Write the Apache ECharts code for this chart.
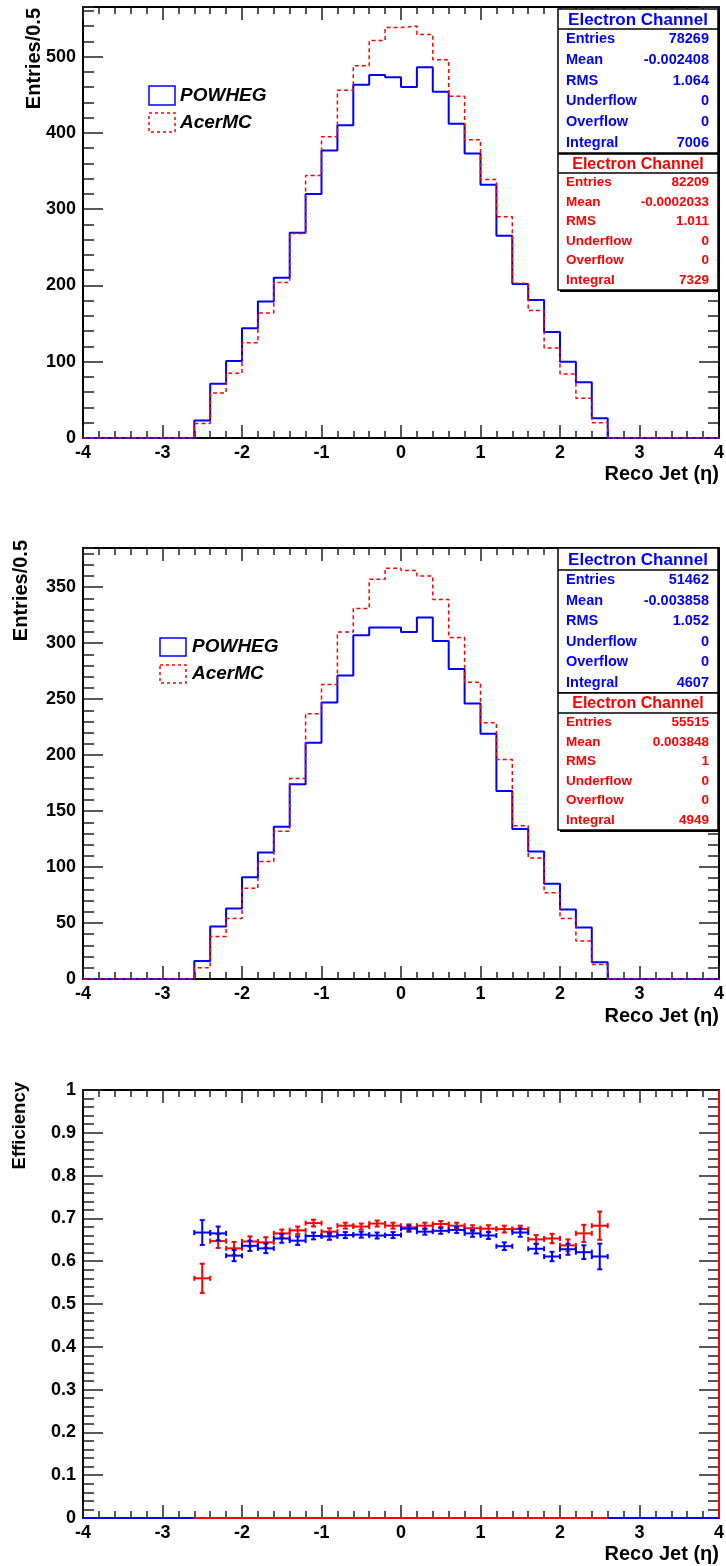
<!DOCTYPE html>
<html>
<head>
<meta charset="utf-8">
<script src="https://cdn.jsdelivr.net/npm/echarts@6/dist/echarts.min.js"></script>
<style>
html, body { margin: 0; padding: 0; background: #fff; }
#main { width: 726px; height: 1566px; }
</style>
</head>
<body>
<div id="main"></div>
<script>
// eta binning: 40 bins of 0.2 on [-4, 4]; only [-2.6, 2.6] is filled
var etaMin = -4, etaMax = 4, binW = 0.2;
var filledMin = -2.6, filledMax = 2.6;

// top panel: all reco jets, entries per bin
var powhegAll = [23, 71, 101, 144, 179, 210, 269, 320, 377, 410, 463, 476, 473,
                 460, 486, 454, 412, 373, 332, 265, 202, 181, 139, 100, 73, 26];
var acerAll = [19, 59, 85, 125, 164, 204, 268, 344, 395, 456, 488, 521, 538,
               540, 529, 496, 448, 391, 339, 290, 203, 167, 118, 84, 52, 20];

// middle panel: matched reco jets
var powhegSel = [16, 47, 63, 91, 113, 136, 174, 211, 247, 271, 307, 314, 314,
                 310, 323, 302, 277, 246, 219, 168, 134, 114, 85, 62, 46, 15];
var acerSel = [10, 38, 54, 81, 105, 132, 179, 237, 263, 310, 331, 357, 367,
               365, 360, 339, 305, 265, 229, 196, 137, 108, 77, 54, 34, 13];

// bottom panel: efficiency per bin and its error
var powhegEff = [0.667, 0.665, 0.613, 0.636, 0.630, 0.653, 0.648, 0.659, 0.658, 0.661, 0.662, 0.660, 0.661,
                 0.676, 0.669, 0.671, 0.673, 0.665, 0.660, 0.635, 0.667, 0.629, 0.611, 0.628, 0.621, 0.611];
var powhegEffErr = [0.029, 0.016, 0.013, 0.012, 0.011, 0.010, 0.010, 0.008, 0.008, 0.007, 0.007, 0.007, 0.007,
                    0.007, 0.007, 0.007, 0.007, 0.008, 0.008, 0.009, 0.010, 0.011, 0.011, 0.013, 0.016, 0.030];
var acerEff = [0.560, 0.647, 0.630, 0.646, 0.644, 0.665, 0.672, 0.689, 0.669, 0.683, 0.681, 0.688, 0.683,
               0.679, 0.683, 0.687, 0.683, 0.677, 0.676, 0.675, 0.675, 0.651, 0.653, 0.637, 0.665, 0.683];
var acerEffErr = [0.034, 0.016, 0.015, 0.012, 0.012, 0.009, 0.009, 0.008, 0.008, 0.007, 0.007, 0.007, 0.007,
                  0.007, 0.007, 0.007, 0.007, 0.007, 0.008, 0.008, 0.008, 0.010, 0.011, 0.014, 0.020, 0.033];

// stat boxes
var statNames = ["Entries", "Mean", "RMS", "Underflow", "Overflow", "Integral"];
var statsPowhegAll = ["78269", "-0.002408", "1.064", "0", "0", "7006"];
var statsAcerAll = ["82209", "-0.0002033", "1.011", "0", "0", "7329"];
var statsPowhegSel = ["51462", "-0.003858", "1.052", "0", "0", "4607"];
var statsAcerSel = ["55515", "0.003848", "1", "0", "0", "4949"];

var BLUE = "#0000ff", RED = "#ff0000";
var FONT = "'Liberation Sans', Arial, Helvetica, sans-serif";

function stepData(vals) {
    var pad = Math.round((filledMin - etaMin) / binW);
    var full = [], i;
    for (i = 0; i < pad; i++) full.push(0);
    full = full.concat(vals);
    while (full.length < Math.round((etaMax - etaMin) / binW)) full.push(0);
    var pts = [];
    for (i = 0; i < full.length; i++) pts.push([etaMin + i * binW, full[i]]);
    pts.push([etaMax, full[full.length - 1]]);
    return pts;
}

function effData(vals, errs) {
    return vals.map(function (v, i) {
        return [filledMin + binW / 2 + i * binW, v, errs[i]];
    });
}

var grids = [
    { left: 83, top: 7, width: 636, height: 431 },
    { left: 83, top: 548, width: 636, height: 431 },
    { left: 83, top: 1090, width: 636, height: 428 }
];
// max, major step, minor step per panel
var yScales = [[565, 100, 20], [385, 50, 10], [1, 0.1, 0.02]];

var tickStyle = { color: "#222", width: 1.5 };
var xAxes = [], yAxes = [];
grids.forEach(function (g, gi) {
    ["bottom", "top"].forEach(function (pos) {
        xAxes.push({
            gridIndex: gi, type: "value", position: pos, min: etaMin, max: etaMax, interval: 1,
            axisLine: { show: true, onZero: false, lineStyle: { color: "#000", width: 2 } },
            axisTick: { show: true, inside: true, length: 13, lineStyle: tickStyle },
            minorTick: { show: true, splitNumber: 5, length: 7, lineStyle: tickStyle },
            axisLabel: {
                show: pos === "bottom", margin: 6, color: "#000", fontFamily: FONT,
                fontWeight: "bold", fontSize: 18, showMinLabel: true, showMaxLabel: true
            },
            splitLine: { show: false }
        });
    });
    var s = yScales[gi];
    ["left", "right"].forEach(function (pos) {
        [[s[1], 20, true], [s[2], 11, false]].forEach(function (t) {
            yAxes.push({
                gridIndex: gi, type: "value", position: pos, min: 0, max: s[0], interval: t[0],
                axisLine: { show: t[2], onZero: false, lineStyle: { color: "#000", width: 2 } },
                axisTick: { show: true, inside: true, length: t[1], lineStyle: tickStyle },
                axisLabel: {
                    show: pos === "left" && t[2], margin: 7, color: "#000", fontFamily: FONT,
                    fontWeight: "bold", fontSize: 18, showMinLabel: true, showMaxLabel: gi === 2
                },
                splitLine: { show: false }
            });
        });
    });
});

function histSeries(gi, vals, color, dashed) {
    return {
        type: "line", xAxisIndex: gi * 2, yAxisIndex: gi * 4, step: "end",
        symbol: "none", silent: true, data: stepData(vals),
        lineStyle: { color: color, width: dashed ? 1.5 : 2, type: dashed ? [4, 3] : "solid" },
        z: dashed ? 3 : 2
    };
}

function errItem(color) {
    return function (params, api) {
        var x = api.value(0), y = api.value(1), e = api.value(2);
        var l = api.coord([x - binW / 2, y]), r = api.coord([x + binW / 2, y]);
        var t = api.coord([x, y + e]), b = api.coord([x, y - e]);
        var cap = 2.5, st = { stroke: color, lineWidth: 2 };
        var seg = function (x1, y1, x2, y2) {
            return { type: "line", shape: { x1: x1, y1: y1, x2: x2, y2: y2 }, style: st };
        };
        return {
            type: "group",
            children: [
                seg(l[0], l[1], r[0], r[1]),
                seg(t[0], t[1], b[0], b[1]),
                seg(l[0], l[1] - cap, l[0], l[1] + cap),
                seg(r[0], r[1] - cap, r[0], r[1] + cap),
                seg(t[0] - cap, t[1], t[0] + cap, t[1]),
                seg(b[0] - cap, b[1], b[0] + cap, b[1])
            ]
        };
    };
}

function effSeries(vals, errs, color) {
    return {
        type: "custom", xAxisIndex: 4, yAxisIndex: 8, silent: true,
        data: effData(vals, errs), encode: { x: 0, y: 1 },
        renderItem: errItem(color), z: 4
    };
}

function plainLine(data, color) {
    return {
        type: "line", xAxisIndex: 4, yAxisIndex: 8, symbol: "none", silent: true,
        data: data, lineStyle: { color: color, width: 2 }, z: 3
    };
}

var series = [
    histSeries(0, powhegAll, BLUE, false),
    histSeries(0, acerAll, RED, true),
    histSeries(1, powhegSel, BLUE, false),
    histSeries(1, acerSel, RED, true),
    plainLine([[etaMin, 0], [etaMax, 0]], BLUE),
    plainLine([[filledMin, 0], [filledMax, 0]], RED),
    plainLine([[etaMax, 0], [etaMax, 1]], RED),
    effSeries(acerEff, acerEffErr, RED),
    effSeries(powhegEff, powhegEffErr, BLUE)
];

function txt(x, y, text, opt) {
    var st = {
        text: text, fill: opt.color || "#000",
        font: (opt.italic ? "italic " : "") + "bold " + opt.size + "px " + FONT,
        align: opt.align || "left", textAlign: opt.align || "left",
        verticalAlign: "middle", textVerticalAlign: "middle"
    };
    return { type: "text", x: x, y: y, rotation: opt.rot || 0, style: st, z: 20 };
}

function statBox(x, top, titleBottom, bottom, color, titleSize, rowSize, values) {
    var w = 160, els = [];
    els.push({ type: "rect", shape: { x: x + 2, y: top + 2, width: w, height: bottom - top }, style: { fill: "#000" }, z: 10 });
    els.push({ type: "rect", shape: { x: x, y: top, width: w, height: bottom - top }, style: { fill: "#fff", stroke: "#000", lineWidth: 1.5 }, z: 11 });
    els.push({ type: "line", shape: { x1: x, y1: titleBottom, x2: x + w, y2: titleBottom }, style: { stroke: "#000", lineWidth: 1.5 }, z: 12 });
    els.push(txt(x + w / 2, (top + titleBottom) / 2 + 1, "Electron Channel", { color: color, size: titleSize, align: "center" }));
    var rowH = (bottom - titleBottom) / statNames.length;
    statNames.forEach(function (n, i) {
        var yc = titleBottom + rowH * (i + 0.5);
        els.push(txt(x + 8, yc, n, { color: color, size: rowSize }));
        els.push(txt(x + w - 9, yc, values[i], { color: color, size: rowSize, align: "right" }));
    });
    return els;
}

function legend(x, y1, y2, h, tx) {
    return [
        { type: "rect", shape: { x: x, y: y1, width: 26, height: h }, style: { fill: "none", stroke: BLUE, lineWidth: 1.5 }, z: 20 },
        { type: "rect", shape: { x: x, y: y2, width: 26, height: h }, style: { fill: "none", stroke: RED, lineWidth: 1.5, lineDash: [3, 3] }, z: 20 },
        txt(tx, y1 + h / 2, "POWHEG", { size: 19, italic: true }),
        txt(tx, y2 + h / 2, "AcerMC", { size: 19, italic: true })
    ];
}

var graphics = []
    .concat(statBox(558, 9, 29, 153, BLUE, 17, 14.5, statsPowhegAll))
    .concat(statBox(558, 154, 173, 290, RED, 16, 13.5, statsAcerAll))
    .concat(statBox(558, 548, 570, 693, BLUE, 17, 14.5, statsPowhegSel))
    .concat(statBox(558, 693, 713, 830, RED, 16, 13.5, statsAcerSel))
    .concat(legend(149, 86, 113, 19, 180))
    .concat(legend(160, 638, 665, 18, 192))
    .concat([
        txt(34, 8, "Entries/0.5", { size: 20, align: "right", rot: Math.PI / 2 }),
        txt(21, 540, "Entries/0.5", { size: 20, align: "right", rot: Math.PI / 2 }),
        txt(20, 1082, "Efficiency", { size: 18.5, align: "right", rot: Math.PI / 2 }),
        txt(719, 474, "Reco Jet (\u03b7)", { size: 20, align: "right" }),
        txt(719, 1016, "Reco Jet (\u03b7)", { size: 20, align: "right" }),
        txt(719, 1554, "Reco Jet (\u03b7)", { size: 20, align: "right" })
    ]);

var chart = echarts.init(document.getElementById("main"));
chart.setOption({
    animation: false,
    backgroundColor: "#fff",
    grid: grids.map(function (g) { return Object.assign({ outerBoundsMode: "none" }, g); }),
    xAxis: xAxes,
    yAxis: yAxes,
    series: series,
    graphic: { elements: graphics }
});
</script>
</body>
</html>
